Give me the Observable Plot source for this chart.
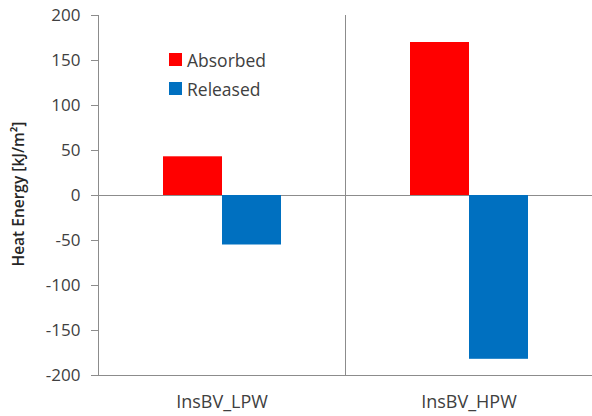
<!DOCTYPE html>
<html>
<head>
<meta charset="utf-8">
<script src="https://cdn.jsdelivr.net/npm/d3@7"></script>
<script src="https://cdn.jsdelivr.net/npm/@observablehq/plot@0.6"></script>
<style>
  html, body { margin: 0; padding: 0; background: #fff; }
  #wrap { position: relative; width: 592px; height: 416px; font-family: "Open Sans", sans-serif; }
  #ytitle { position: absolute; left: 18px; top: 194px; transform: translate(-50%, -50%) rotate(-90deg);
            white-space: nowrap; font-size: 15.5px; font-weight: 600; color: #262626; }
  #legend { position: absolute; left: 169px; top: 45px; font-size: 17.5px; color: #404040; }
  .li { display: flex; align-items: center; height: 29px; }
  .sw { width: 13px; height: 13px; margin-right: 5px; }
</style>
</head>
<body>
<div id="wrap">
  <div id="chart"></div>
  <div id="ytitle">Heat Energy [kJ/m²]</div>
  <div id="legend"></div>
</div>
<script>
const categories = ["InsBV_LPW", "InsBV_HPW"];
const series = ["Absorbed", "Released"];
const absorbed = [43, 170];
const released = [-55, -182];
const yTicks = [-200, -150, -100, -50, 0, 50, 100, 150, 200];
const colors = ["#ff0000", "#0070c0"];

const data = [];
categories.forEach((c, i) => {
  data.push({category: c, series: "Absorbed", value: absorbed[i]});
  data.push({category: c, series: "Released", value: released[i]});
});

const chart = Plot.plot({
  width: 592,
  height: 416,
  marginLeft: 98,
  marginRight: 0,
  marginTop: 15,
  marginBottom: 41,
  style: {fontFamily: "Open Sans, sans-serif", color: "#404040", background: "transparent"},
  fx: {domain: categories, padding: 0, label: null},
  x: {domain: series, paddingInner: 0, paddingOuter: 1.06, axis: null},
  y: {domain: [-200, 200], label: null},
  color: {domain: series, range: colors},
  marks: [
    Plot.frame({anchor: "left", stroke: "#8c8c8c"}),
    Plot.ruleY([0], {stroke: "#8c8c8c"}),
    Plot.ruleY([-200], {stroke: "#8c8c8c"}),
    Plot.barY(data, {fx: "category", x: "series", y: "value", fill: "series"}),
    Plot.axisY({ticks: yTicks, tickSize: 7, tickPadding: 11, fontSize: 17, stroke: "#8c8c8c", fill: "#404040",
                tickFormat: d => String(d), label: null}),
    Plot.axisFx({anchor: "bottom", tickSize: 0, tickPadding: 20, fontSize: 18, fill: "#404040", label: null})
  ]
});
document.getElementById("chart").appendChild(chart);

const legend = document.getElementById("legend");
series.forEach((s, i) => {
  const row = document.createElement("div");
  row.className = "li";
  const sw = document.createElement("div");
  sw.className = "sw";
  sw.style.background = colors[i];
  const t = document.createElement("span");
  t.textContent = s;
  row.appendChild(sw);
  row.appendChild(t);
  legend.appendChild(row);
});
</script>
</body>
</html>
